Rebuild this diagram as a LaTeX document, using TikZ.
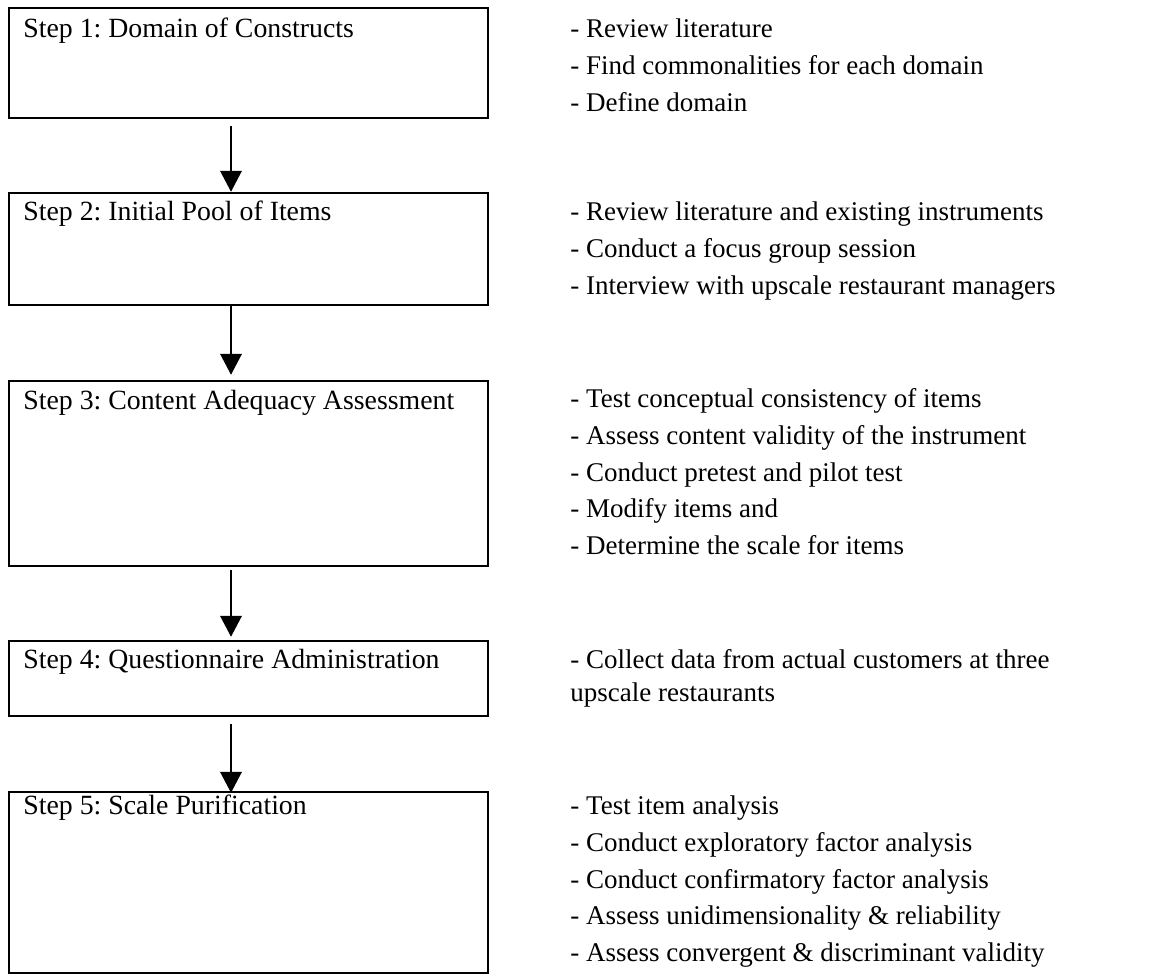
\documentclass[tikz,border=0pt]{standalone}
\usepackage{fontspec}
\setmainfont{Liberation Serif}
\usetikzlibrary{arrows.meta}
\frenchspacing
\begin{document}
\begin{tikzpicture}[x=0.5pt,y=-0.5pt,
  stepbox/.style={draw, line width=1.2pt, inner sep=0pt},
  lab/.style={anchor=base west, inner sep=0pt, font=\fontsize{13.9pt}{18.3pt}\selectfont},
  items/.style={anchor=base west, inner sep=0pt, align=left, font=\fontsize{13.5pt}{18.3pt}\selectfont},
  arr/.style={line width=1.2pt, -{Triangle[width=10.7pt,length=10.5pt]}}]
\useasboundingbox (0,0) rectangle (1153,977);
% boxes
\node[stepbox, minimum width=239.5pt, minimum height=55pt] (b1) at (248.5,63) {};
\node[stepbox, minimum width=239.5pt, minimum height=56pt] (b2) at (248.5,249) {};
\node[stepbox, minimum width=239.5pt, minimum height=92.5pt] (b3) at (248.5,473.5) {};
\node[stepbox, minimum width=239.5pt, minimum height=37.5pt] (b4) at (248.5,678.5) {};
\node[stepbox, minimum width=239.5pt, minimum height=90.5pt] (b5) at (248.5,882.5) {};
% step labels
\node[lab] (l1) at (23,38) {Step 1: Domain of Constructs};
\node[lab] (l2) at (23,221) {Step 2: Initial Pool of Items};
\node[lab] (l3) at (23,410) {Step 3: Content Adequacy Assessment};
\node[lab] (l4) at (23,669) {Step 4: Questionnaire Administration};
\node[lab] (l5) at (23,815) {Step 5: Scale Purification};
% item lists (base anchor = baseline of the last line)
\node[items] (r1) at (570,111.2) {- Review literature\\- Find commonalities for each domain\\- Define domain};
\node[items] (r2) at (570,294.2) {- Review literature and existing instruments\\- Conduct a focus group session\\- Interview with upscale restaurant managers};
\node[items] (r3) at (570,554.4) {- Test conceptual consistency of items\\- Assess content validity of the instrument\\- Conduct pretest and pilot test\\- Modify items and\\- Determine the scale for items};
\node[items, font=\fontsize{13.5pt}{16.5pt}\selectfont] (r4) at (570,702) {- Collect data from actual customers at three\\upscale restaurants};
\node[items] (r5) at (570,961.4) {- Test item analysis\\- Conduct exploratory factor analysis\\- Conduct confirmatory factor analysis\\- Assess unidimensionality \& reliability\\- Assess convergent \& discriminant validity};
% arrows
\coordinate (ax) at (231,0);
\draw[arr, shorten <=3.5pt] (b1.south -| ax) -- (b2.north -| ax);
\draw[arr, shorten >=2.5pt] (b2.south -| ax) -- (b3.north -| ax);
\draw[arr, shorten <=1.5pt, shorten >=1.5pt] (b3.south -| ax) -- (b4.north -| ax);
\draw[arr, shorten <=3.5pt, shorten >=-1pt] (b4.south -| ax) -- (b5.north -| ax);
\end{tikzpicture}
\end{document}
